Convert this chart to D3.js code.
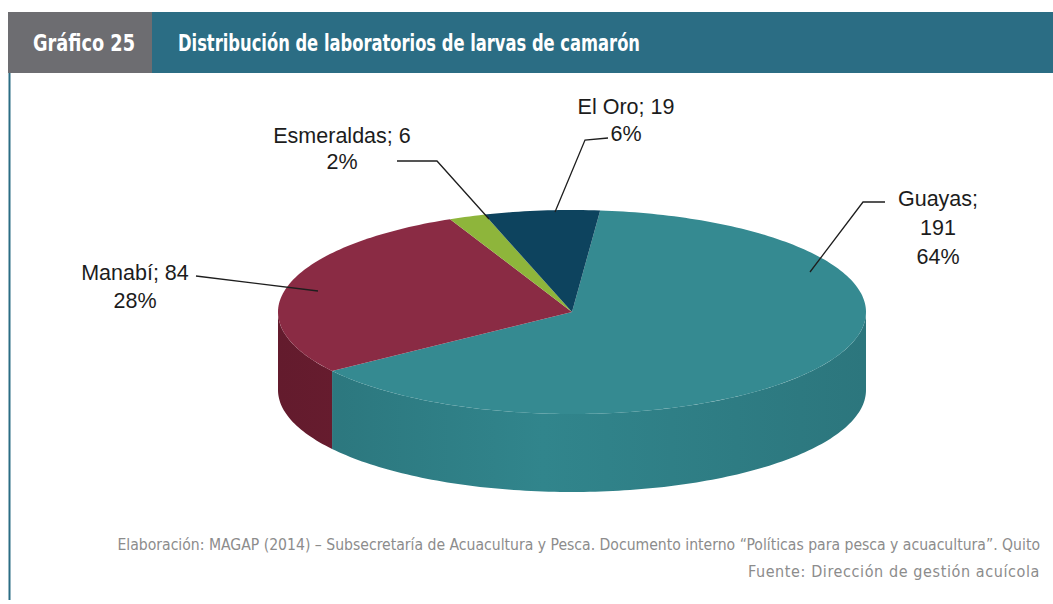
<!DOCTYPE html>
<html>
<head>
<meta charset="utf-8">
<script src="https://cdn.jsdelivr.net/npm/d3@7"></script>
<style>
  html, body { margin: 0; padding: 0; background: #ffffff; }
  svg { display: block; }
</style>
</head>
<body>
<div id="chart"></div>
<script>
// Data, clockwise from the top of the pie
const provinces = ['Guayas', 'Manabí', 'Esmeraldas', 'El Oro'];
const labs = [191, 84, 6, 19];
const percents = ['64%', '28%', '2%', '6%'];

const topColours = ['#358a91', '#8a2b44', '#8eb53b', '#0d435e'];
const sideColours = ['#2f7f86', '#6c1e31', '#789c2e', '#0a3449'];

const width = 1053, height = 604;

const svg = d3.select('#chart')
  .append('svg')
  .attr('width', width)
  .attr('height', height)
  .attr('viewBox', `0 0 ${width} ${height}`);

const condFont = '"Liberation Sans Narrow", "DejaVu Sans Condensed", sans-serif';

// Header bar
svg.append('rect')
  .attr('x', 152).attr('y', 12)
  .attr('width', width - 152).attr('height', 61)
  .attr('fill', '#2b6d84');
svg.append('rect')
  .attr('x', 8).attr('y', 12)
  .attr('width', 144).attr('height', 61)
  .attr('fill', '#6d6d71');

svg.append('text')
  .attr('x', 33).attr('y', 51)
  .attr('fill', '#ffffff')
  .attr('font-family', condFont)
  .attr('font-weight', 'bold')
  .attr('font-size', 23)
  .attr('textLength', 102)
  .attr('lengthAdjust', 'spacingAndGlyphs')
  .text('Gráfico 25');

svg.append('text')
  .attr('x', 178).attr('y', 51)
  .attr('fill', '#ffffff')
  .attr('font-family', condFont)
  .attr('font-weight', 'bold')
  .attr('font-size', 23)
  .attr('textLength', 462)
  .attr('lengthAdjust', 'spacingAndGlyphs')
  .text('Distribución de laboratorios de larvas de camarón');

// Left border line
svg.append('line')
  .attr('x1', 9.5).attr('x2', 9.5)
  .attr('y1', 73).attr('y2', 600)
  .attr('stroke', '#2b6d84')
  .attr('stroke-width', 2);

// 3D pie geometry
const cx = 572, cy = 312, rx = 294, ry = 102, depth = 78;
const startDeg = 5.5;

const pie = d3.pie()
  .sort(null)
  .startAngle(startDeg * Math.PI / 180)
  .endAngle(startDeg * Math.PI / 180 + 2 * Math.PI);
const arcs = pie(labs);

const px = a => cx + rx * Math.sin(a);
const py = a => cy - ry * Math.cos(a);

function ellipseArc(a0, a1, dy) {
  const n = Math.max(2, Math.ceil(Math.abs(a1 - a0) / 0.02));
  const pts = [];
  for (let i = 0; i <= n; i++) {
    const a = a0 + (a1 - a0) * i / n;
    pts.push([px(a), py(a) + dy]);
  }
  return pts;
}

const defs = svg.append('defs');
sideColours.forEach((c, i) => {
  const g = defs.append('linearGradient')
    .attr('id', 'side' + i)
    .attr('gradientUnits', 'userSpaceOnUse')
    .attr('x1', cx - rx).attr('x2', cx + rx)
    .attr('y1', 0).attr('y2', 0);
  g.append('stop').attr('offset', '0%').attr('stop-color', d3.color(c).darker(0.25));
  g.append('stop').attr('offset', '45%').attr('stop-color', d3.color(c).brighter(0.12));
  g.append('stop').attr('offset', '100%').attr('stop-color', d3.color(c).darker(0.2));
});

const line = d3.line();
const pieG = svg.append('g');

// Front walls (visible between 90deg and 270deg)
arcs.forEach((d, i) => {
  const a0 = Math.max(d.startAngle, Math.PI / 2);
  const a1 = Math.min(d.endAngle, 3 * Math.PI / 2);
  if (a1 <= a0) return;
  const top = ellipseArc(a0, a1, 0);
  const bottom = ellipseArc(a1, a0, depth);
  pieG.append('path')
    .attr('d', line(top.concat(bottom)) + 'Z')
    .attr('fill', `url(#side${i})`);
});

// Top faces
arcs.forEach((d, i) => {
  const pts = [[cx, cy]].concat(ellipseArc(d.startAngle, d.endAngle, 0));
  pieG.append('path')
    .attr('d', line(pts) + 'Z')
    .attr('fill', topColours[i]);
});

// Labels with leader lines
const labelLayout = [
  { x: 938, y: 206, gap: 29, path: [[885, 202], [863, 202], [810, 272]] },
  { x: 135, y: 280, gap: 28, path: [[196, 276], [318, 291]] },
  { x: 342, y: 143, gap: 26, path: [[397, 161], [437, 161], [489, 219]] },
  { x: 626, y: 114, gap: 27, path: [[608, 138], [585, 140], [555, 212]] }
];

const labelFont = '"Liberation Sans", Arial, Helvetica, sans-serif';

arcs.forEach((d, i) => {
  const L = labelLayout[i];
  svg.append('path')
    .attr('d', line(L.path))
    .attr('fill', 'none')
    .attr('stroke', '#1e1e1e')
    .attr('stroke-width', 1.3);

  const lines = i === 0
    ? [provinces[i] + ';', String(labs[i]), percents[i]]
    : [provinces[i] + '; ' + labs[i], percents[i]];

  const t = svg.append('text')
    .attr('x', L.x).attr('y', L.y)
    .attr('text-anchor', 'middle')
    .attr('font-family', labelFont)
    .attr('font-size', 21.5)
    .attr('fill', '#1c1c1c');
  lines.forEach((s, k) => {
    t.append('tspan')
      .attr('x', L.x)
      .attr('dy', k === 0 ? 0 : L.gap)
      .text(s);
  });
});

// Footer
svg.append('text')
  .attr('x', 1040).attr('y', 550)
  .attr('text-anchor', 'end')
  .attr('font-family', condFont)
  .attr('font-size', 15.6)
  .attr('fill', '#8c8c8c')
  .text('Elaboración: MAGAP (2014) – Subsecretaría de Acuacultura y Pesca. Documento interno “Políticas para pesca y acuacultura”. Quito');
svg.append('text')
  .attr('x', 1040).attr('y', 577)
  .attr('text-anchor', 'end')
  .attr('font-family', condFont)
  .attr('font-size', 16)
  .attr('letter-spacing', 0.6)
  .attr('fill', '#8c8c8c')
  .text('Fuente: Dirección de gestión acuícola');
</script>
</body>
</html>
